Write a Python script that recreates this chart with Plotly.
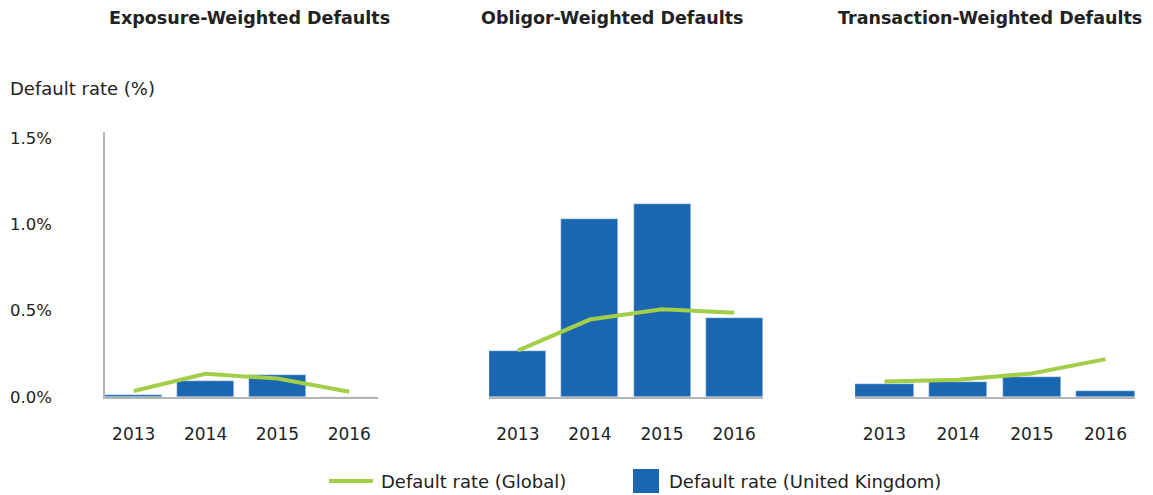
import plotly.graph_objects as go

years = ["2013", "2014", "2015", "2016"]
titles = ["Exposure-Weighted Defaults", "Obligor-Weighted Defaults", "Transaction-Weighted Defaults"]

uk_exposure = [0.01, 0.095, 0.125, 0.0]
uk_obligor = [0.27, 1.035, 1.12, 0.46]
uk_transaction = [0.075, 0.087, 0.116, 0.035]

global_exposure = [0.035, 0.135, 0.107, 0.03]
global_obligor = [0.27, 0.45, 0.51, 0.49]
global_transaction = [0.09, 0.10, 0.137, 0.22]

y_ticks = [0.0, 0.5, 1.0, 1.5]

uk = [uk_exposure, uk_obligor, uk_transaction]
glob = [global_exposure, global_obligor, global_transaction]

W, H = 1153, 495
BLUE = "#1B66B1"
GREEN = "#A3CE47"
AXIS = "#B4B4B4"
TEXT = "#222222"
FONT = "DejaVu Sans"

# panel domains in pixels
x_px = [(105, 378), (489, 763), (855, 1135)]
y_dom = [(H - 397) / H, (H - 132) / H]

fig = go.Figure()
for i in range(3):
    n = "" if i == 0 else str(i + 1)
    fig.add_trace(go.Bar(x=years, y=uk[i], marker_color=BLUE, width=0.79,
                         xaxis="x" + n, yaxis="y" + n, showlegend=False))
    fig.add_trace(go.Scatter(x=years, y=glob[i], mode="lines",
                             line=dict(color=GREEN, width=4),
                             xaxis="x" + n, yaxis="y" + n, showlegend=False))
    fig.layout["xaxis" + n] = dict(
        domain=[x_px[i][0] / W, x_px[i][1] / W], range=[-0.4, 3.4],
        anchor="y" + n, showline=True, linecolor=AXIS, linewidth=1.5,
        showgrid=False, ticks="", ticklabelstandoff=21,
        tickfont=dict(size=17, color=TEXT, family=FONT))
    fig.layout["yaxis" + n] = dict(
        domain=y_dom, range=[0, 1.54], anchor="x" + n,
        showline=(i == 0), linecolor=AXIS, linewidth=1.5,
        showgrid=False, zeroline=False, showticklabels=False)
    fig.add_annotation(text="<b>" + titles[i] + "</b>", xref="paper", yref="paper",
                       x=[249, 612, 990][i] / W, y=(H - 18) / H, showarrow=False,
                       xanchor="center", yanchor="middle",
                       font=dict(size=17.5, color=TEXT, family=FONT))

for v in y_ticks:
    fig.add_annotation(text=f"{v:.1f}%", xref="paper", yref="y", x=8 / W, y=v,
                       xanchor="left", yanchor="middle", showarrow=False,
                       font=dict(size=16.5, color=TEXT, family=FONT))

fig.add_annotation(text="Default rate (%)", xref="paper", yref="paper",
                   x=8 / W, y=(H - 88) / H, xanchor="left", yanchor="middle",
                   showarrow=False, font=dict(size=18, color=TEXT, family=FONT))

# legend
fig.add_shape(type="line", xref="paper", yref="paper", x0=329 / W, x1=373 / W,
              y0=(H - 481) / H, y1=(H - 481) / H, line=dict(color=GREEN, width=4))
fig.add_annotation(text="Default rate (Global)", xref="paper", yref="paper",
                   x=379 / W, y=(H - 481) / H, xanchor="left", yanchor="middle",
                   showarrow=False, font=dict(size=18, color=TEXT, family=FONT))
fig.add_shape(type="rect", xref="paper", yref="paper", x0=633 / W, x1=659 / W,
              y0=(H - 493) / H, y1=(H - 469) / H, fillcolor=BLUE, line_width=0)
fig.add_annotation(text="Default rate (United Kingdom)", xref="paper", yref="paper",
                   x=667 / W, y=(H - 481) / H, xanchor="left", yanchor="middle",
                   showarrow=False, font=dict(size=18, color=TEXT, family=FONT))

fig.update_layout(width=W, height=H, margin=dict(l=0, r=0, t=0, b=0),
                  plot_bgcolor="white", paper_bgcolor="white", bargap=0)
fig.write_html("out.html", config={"displayModeBar": False},
               post_script="document.body.style.margin='0';")
